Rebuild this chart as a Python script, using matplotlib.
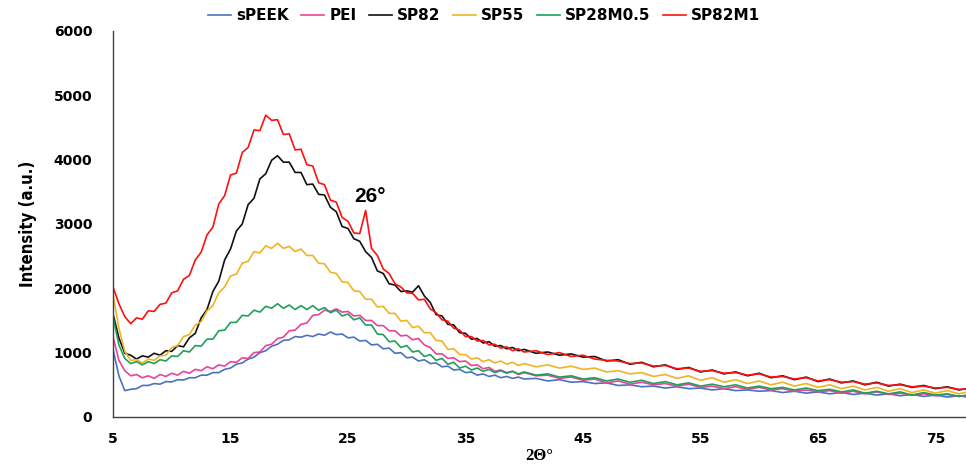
import numpy as np
import matplotlib
matplotlib.use('Agg')
import matplotlib.pyplot as plt

# 2theta grid: 0.5 deg steps up to 39.5, then 1 deg steps
two_theta = np.concatenate([np.arange(5, 40, 0.5), np.arange(40, 79, 1.0)])

speek = [1050, 640, 410, 430, 440, 490, 490, 520, 510, 550,
         545, 580, 575, 610, 610, 650, 650, 690, 690, 740,
         760, 820, 840, 900, 930, 1000, 1030, 1100, 1130, 1190,
         1200, 1250, 1240, 1270, 1250, 1290, 1270, 1320, 1280, 1290,
         1230, 1240, 1180, 1190, 1120, 1130, 1060, 1070, 990, 1000,
         920, 930, 870, 890, 830, 840, 780, 790, 730, 740,
         690, 700, 650, 670, 630, 650, 610, 630, 600, 620,
         590, 600, 560, 580, 540, 550, 520, 530, 490, 500,
         470, 480, 450, 470, 440, 450, 420, 440, 410, 420,
         400, 410, 380, 400, 370, 390, 360, 380, 350, 370,
         340, 360, 330, 350, 320, 340, 310, 330, 300]

pei = [1250, 880, 720, 640, 660, 610, 640, 600, 660, 630,
       680, 650, 710, 680, 740, 720, 780, 750, 810, 790,
       860, 850, 920, 910, 1000, 1010, 1110, 1130, 1220, 1240,
       1340, 1350, 1440, 1460, 1580, 1590, 1660, 1640, 1680, 1630,
       1640, 1570, 1580, 1500, 1500, 1420, 1420, 1340, 1340, 1260,
       1270, 1200, 1220, 1120, 1080, 980, 980, 910, 920, 860,
       870, 800, 810, 750, 770, 710, 730, 690, 710, 660,
       690, 640, 650, 600, 620, 570, 590, 530, 560, 510,
       540, 500, 520, 480, 510, 460, 480, 440, 470, 430,
       460, 420, 440, 400, 420, 390, 410, 370, 400, 360,
       390, 350, 370, 340, 360, 330, 350, 320, 340]

sp82 = [1600, 1230, 990, 960, 900, 950, 930, 990, 960, 1030,
        1020, 1110, 1090, 1230, 1300, 1540, 1670, 1950, 2110, 2440,
        2610, 2890, 3000, 3300, 3400, 3700, 3780, 3990, 4060, 3960,
        3960, 3800, 3800, 3610, 3620, 3460, 3450, 3260, 3190, 2960,
        2930, 2770, 2730, 2570, 2480, 2270, 2230, 2070, 2050, 1950,
        1960, 1940, 2040, 1880, 1780, 1590, 1570, 1440, 1430, 1310,
        1300, 1210, 1220, 1150, 1170, 1100, 1110, 1060, 1080, 1030,
        1050, 990, 1010, 960, 980, 930, 940, 870, 890, 820,
        850, 780, 810, 740, 770, 700, 730, 670, 700, 640,
        680, 610, 640, 580, 620, 550, 590, 530, 560, 500,
        540, 480, 510, 460, 490, 440, 470, 420, 450]

sp55 = [1900, 1380, 1020, 880, 890, 840, 900, 880, 950, 960,
        1080, 1110, 1250, 1280, 1430, 1480, 1650, 1730, 1930, 2020,
        2190, 2220, 2390, 2420, 2570, 2550, 2660, 2620, 2700, 2620,
        2650, 2570, 2610, 2510, 2510, 2390, 2380, 2250, 2230, 2100,
        2090, 1960, 1950, 1830, 1830, 1710, 1720, 1610, 1610, 1490,
        1500, 1390, 1410, 1310, 1310, 1190, 1180, 1050, 1060, 970,
        970, 900, 920, 860, 890, 840, 870, 820, 850, 800,
        830, 780, 810, 760, 790, 740, 760, 700, 720, 670,
        690, 630, 660, 600, 640, 570, 610, 540, 580, 520,
        560, 500, 540, 480, 520, 460, 500, 440, 480, 420,
        460, 400, 440, 380, 420, 370, 410, 360, 400]

sp28m05 = [1550, 1120, 910, 830, 860, 810, 860, 830, 890, 870,
           950, 940, 1030, 1010, 1110, 1100, 1210, 1210, 1340, 1350,
           1470, 1470, 1580, 1570, 1660, 1630, 1720, 1690, 1760, 1690,
           1740, 1670, 1730, 1670, 1730, 1660, 1700, 1620, 1660, 1570,
           1600, 1510, 1540, 1430, 1430, 1290, 1280, 1170, 1180, 1080,
           1110, 1010, 1030, 940, 970, 880, 910, 820, 850, 760,
           790, 730, 760, 710, 740, 690, 720, 680, 710, 670,
           700, 650, 670, 620, 640, 590, 610, 560, 590, 540,
           570, 520, 550, 500, 530, 480, 510, 470, 500, 450,
           480, 440, 460, 420, 450, 410, 430, 390, 420, 370,
           400, 360, 390, 340, 380, 340, 360, 320, 350]

sp82m1 = [2020, 1760, 1560, 1450, 1540, 1520, 1650, 1640, 1750, 1770,
          1930, 1960, 2140, 2200, 2440, 2560, 2830, 2950, 3310, 3440,
          3760, 3790, 4110, 4190, 4460, 4450, 4690, 4610, 4620, 4390,
          4400, 4150, 4160, 3920, 3900, 3640, 3610, 3370, 3340, 3100,
          3040, 2860, 2850, 3210, 2620, 2510, 2300, 2230, 2070, 2020,
          1930, 1920, 1820, 1830, 1680, 1620, 1510, 1490, 1380, 1350,
          1250, 1250, 1180, 1190, 1120, 1130, 1070, 1090, 1030, 1060,
          1010, 1030, 970, 1000, 940, 960, 900, 880, 870, 830,
          840, 790, 800, 750, 760, 710, 720, 680, 690, 650,
          670, 620, 630, 590, 610, 560, 580, 540, 550, 510,
          530, 490, 500, 470, 480, 450, 460, 430, 440]

labels = ['sPEEK', 'PEI', 'SP82', 'SP55', 'SP28M0.5', 'SP82M1']
series = [speek, pei, sp82, sp55, sp28m05, sp82m1]
colors = ['#4a72c0', '#e8449a', '#111111', '#f0b323', '#1fa05a', '#ff1010']

x_ticks = [5, 15, 25, 35, 45, 55, 65, 75]
y_ticks = [0, 1000, 2000, 3000, 4000, 5000, 6000]

fig = plt.figure(figsize=(9.66, 4.68), dpi=100)
ax = fig.add_axes([0.117, 0.109, 0.883, 0.825])

for vals, lab, col in zip(series, labels, colors):
    ax.plot(two_theta, vals, color=col, lw=1.2, label=lab)

ax.set_xlim(5, 77.6)
ax.set_ylim(0, 6000)
ax.set_xticks(x_ticks)
ax.set_yticks(y_ticks)
ax.tick_params(length=0, labelsize=10)
ax.tick_params(axis='x', pad=11)
ax.tick_params(axis='y', pad=15)
for t in ax.get_xticklabels() + ax.get_yticklabels():
    t.set_fontweight('bold')

for s in ['top', 'right']:
    ax.spines[s].set_visible(False)
for s in ['left', 'bottom']:
    ax.spines[s].set_color('#404040')
    ax.spines[s].set_linewidth(1.0)

ax.set_ylabel('Intensity (a.u.)', fontweight='bold', fontsize=12, fontstretch='condensed', labelpad=12)
ax.set_xlabel('2Θ°', family=['Liberation Serif', 'DejaVu Serif'], fontweight='bold', fontsize=12, labelpad=1)

ax.text(26.9, 3430, '26°', fontsize=15, fontweight='bold', family=['Liberation Sans', 'DejaVu Sans'],
        ha='center', va='center')

leg = ax.legend(loc='upper center', bbox_to_anchor=(0.435, 1.095), ncol=6, frameon=False,
                handlelength=1.5, handletextpad=0.35, columnspacing=0.8,
                prop={'weight': 'bold', 'size': 11})

fig.savefig('out.png', dpi=100)
